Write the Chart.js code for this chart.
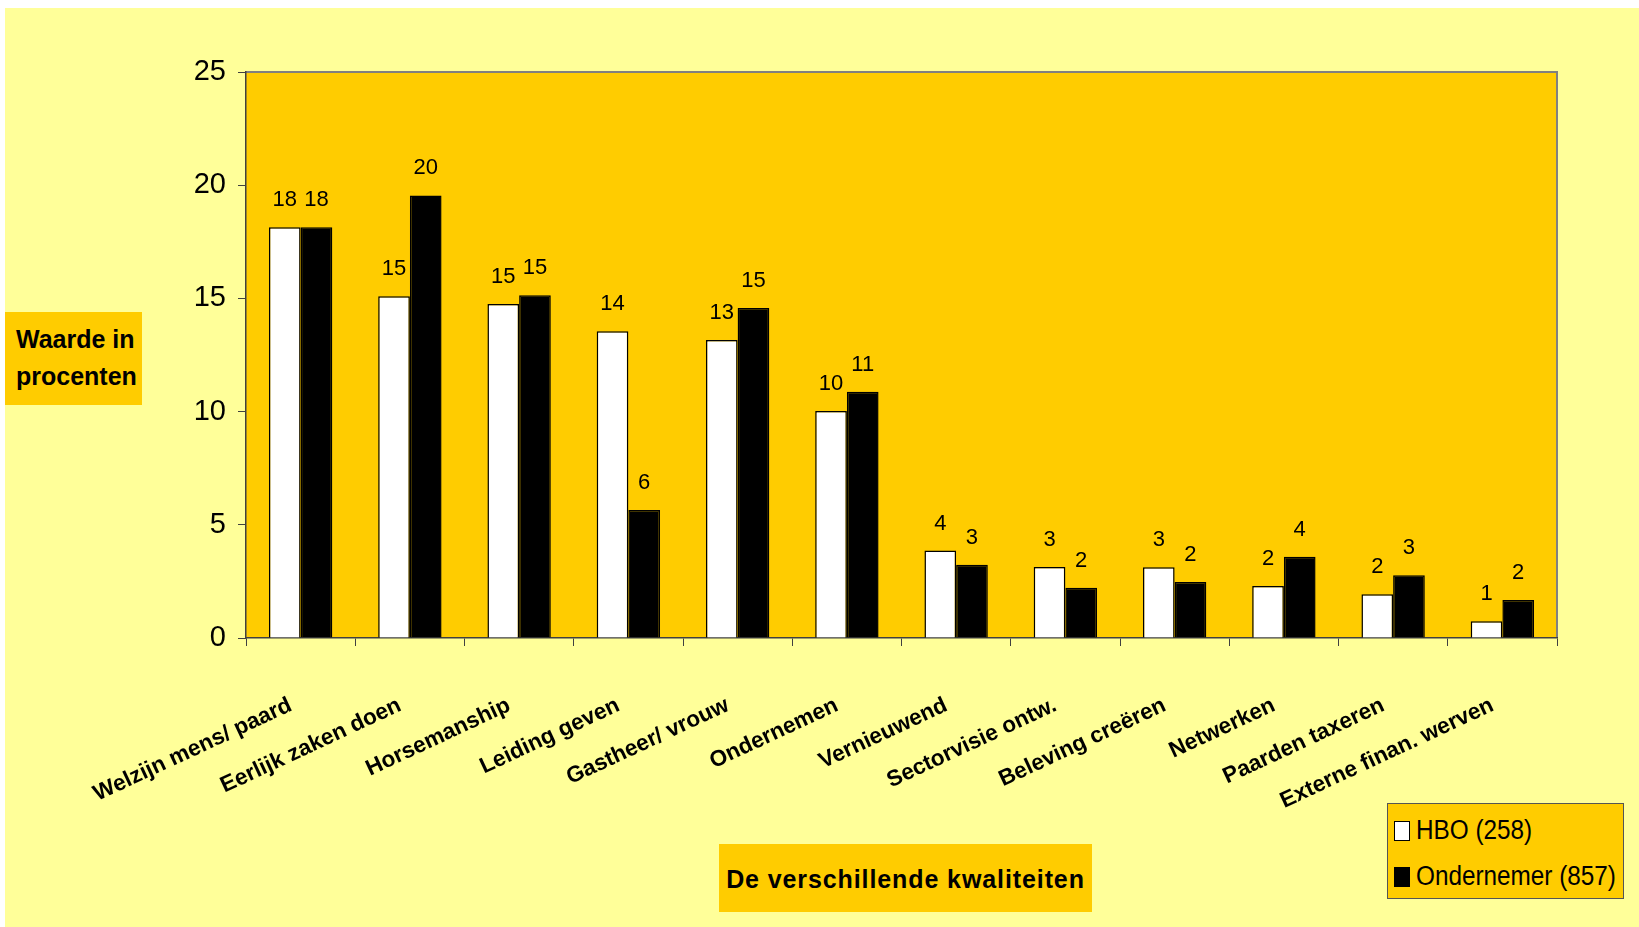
<!DOCTYPE html>
<html>
<head>
<meta charset="utf-8">
<script src="https://cdn.jsdelivr.net/npm/chart.js@4/dist/chart.umd.min.js"></script>
<style>
    html, body { margin: 0; padding: 0; background: #fff; width: 1639px; height: 927px; overflow: hidden; }
    #bg { position: absolute; left: 5px; top: 8px; width: 1634px; height: 919px; background: #FFFF99; }
    #chart { position: absolute; left: 0; top: 0; }
    .box { position: absolute; background: #FFCC00; font-family: "Liberation Sans", Arial, sans-serif; font-weight: bold; color: #000; }
    #ytitle { left: 5px; top: 312px; width: 137px; height: 93px; font-size: 25px; line-height: 37px; padding-left: 11px; box-sizing: border-box; padding-top: 9px; }
    #xtitle { left: 719px; top: 844px; width: 373px; height: 68px; font-size: 25px; letter-spacing: 0.9px; line-height: 70px; text-align: center; }
    #legend { position: absolute; left: 1387px; top: 803px; width: 237px; height: 96px; background: #FFCC00; border: 1.5px solid #555; box-sizing: border-box;
              font-family: "Liberation Sans", Arial, sans-serif; font-size: 27px; }
    .item { position: absolute; left: 6px; height: 30px; line-height: 30px; white-space: nowrap; }
    .sw { display: inline-block; width: 14px; height: 18px; border: 1.5px solid #000; vertical-align: -2px; margin-right: 6px; }
    .txt { display: inline-block; transform: scaleX(0.9); transform-origin: left center; }
</style>
</head>
<body>
<div id="bg"></div>
<canvas id="chart" width="1639" height="927"></canvas>
<div id="ytitle" class="box">Waarde in<br>procenten</div>
<div id="xtitle" class="box">De verschillende kwaliteiten</div>
<div id="legend"></div>
<script>
const categories = ['Welzijn mens/ paard', 'Eerlijk zaken doen', 'Horsemanship', 'Leiding geven', 'Gastheer/ vrouw',
    'Ondernemen', 'Vernieuwend', 'Sectorvisie ontw.', 'Beleving creëren', 'Netwerken', 'Paarden taxeren', 'Externe finan. werven'];
const hboValues = [18.14, 15.1, 14.75, 13.55, 13.16, 10.03, 3.86, 3.14, 3.12, 2.30, 1.93, 0.74];
const ondernemerValues = [18.14, 19.55, 15.14, 5.65, 14.58, 10.88, 3.24, 2.22, 2.47, 3.59, 2.77, 1.68];
const seriesLabels = ['HBO (258)', 'Ondernemer (857)'];
const seriesColors = ['#FFFFFF', '#000000'];
const yTicks = [0, 5, 10, 15, 20, 25];

const sans = '"Liberation Sans", Arial, sans-serif';
const plotLeft = 246, plotTop = 72, plotRight = 1557, plotBottom = 638;

// plot area fill + gray top/right border
const plotBg = {
    id: 'plotBg',
    beforeDraw(chart) {
        const { ctx, chartArea: a } = chart;
        ctx.save();
        ctx.fillStyle = '#FFCC00';
        ctx.fillRect(a.left, a.top, a.right - a.left, a.bottom - a.top);
        ctx.strokeStyle = '#808080';
        ctx.lineWidth = 2;
        ctx.beginPath();
        ctx.moveTo(a.left, a.top);
        ctx.lineTo(a.right, a.top);
        ctx.lineTo(a.right, a.bottom);
        ctx.stroke();
        ctx.restore();
    }
};

// value labels above bars
const valueLabels = {
    id: 'valueLabels',
    afterDatasetsDraw(chart) {
        const ctx = chart.ctx;
        ctx.save();
        ctx.font = '22px ' + sans;
        ctx.fillStyle = '#000';
        ctx.textAlign = 'center';
        ctx.textBaseline = 'alphabetic';
        chart.data.datasets.forEach((ds, i) => {
            chart.getDatasetMeta(i).data.forEach((bar, j) => {
                ctx.fillText(Math.round(ds.data[j]), bar.x, bar.y - 21);
            });
        });
        ctx.restore();
    }
};

const chart = new Chart(document.getElementById('chart'), {
    type: 'bar',
    data: {
        labels: categories,
        datasets: [
            { label: seriesLabels[0], data: hboValues, backgroundColor: seriesColors[0] },
            { label: seriesLabels[1], data: ondernemerValues, backgroundColor: seriesColors[1] }
        ]
    },
    options: {
        responsive: false,
        animation: false,
        devicePixelRatio: 1,
        layout: { padding: { left: 0, top: plotTop, right: 1639 - plotRight, bottom: 0 } },
        datasets: {
            bar: { categoryPercentage: 0.58, barPercentage: 1.0, borderColor: '#000', borderWidth: 1.5, borderSkipped: 'start' }
        },
        plugins: { legend: { display: false }, tooltip: { enabled: false } },
        scales: {
            x: {
                afterFit(scale) { scale.height = 927 - plotBottom; },
                grid: { display: true, drawOnChartArea: false, tickLength: 8, color: '#404040', offset: true },
                border: { display: true, color: '#404040', width: 1.5 },
                ticks: {
                    autoSkip: false, minRotation: 25, maxRotation: 25, padding: 46, labelOffset: -10,
                    color: '#000', font: { family: sans, size: 22.5, weight: 'bold' }
                }
            },
            y: {
                min: 0, max: 25,
                afterFit(scale) { scale.width = plotLeft; },
                afterBuildTicks(scale) { scale.ticks = yTicks.map(v => ({ value: v })); },
                grid: { display: true, drawOnChartArea: false, tickLength: 8, color: '#404040' },
                border: { display: true, color: '#404040', width: 1.5 },
                ticks: { padding: 12, color: '#000', font: { family: sans, size: 29 } }
            }
        }
    },
    plugins: [plotBg, valueLabels]
});

// legend from the datasets
const legend = document.getElementById('legend');
chart.data.datasets.forEach((ds, i) => {
    const item = document.createElement('div');
    item.className = 'item';
    item.style.top = (i === 0 ? 11 : 57) + 'px';
    const sw = document.createElement('span');
    sw.className = 'sw';
    sw.style.background = ds.backgroundColor;
    item.appendChild(sw);
    const txt = document.createElement('span');
    txt.className = 'txt';
    txt.textContent = ds.label;
    item.appendChild(txt);
    legend.appendChild(item);
});
</script>
</body>
</html>
